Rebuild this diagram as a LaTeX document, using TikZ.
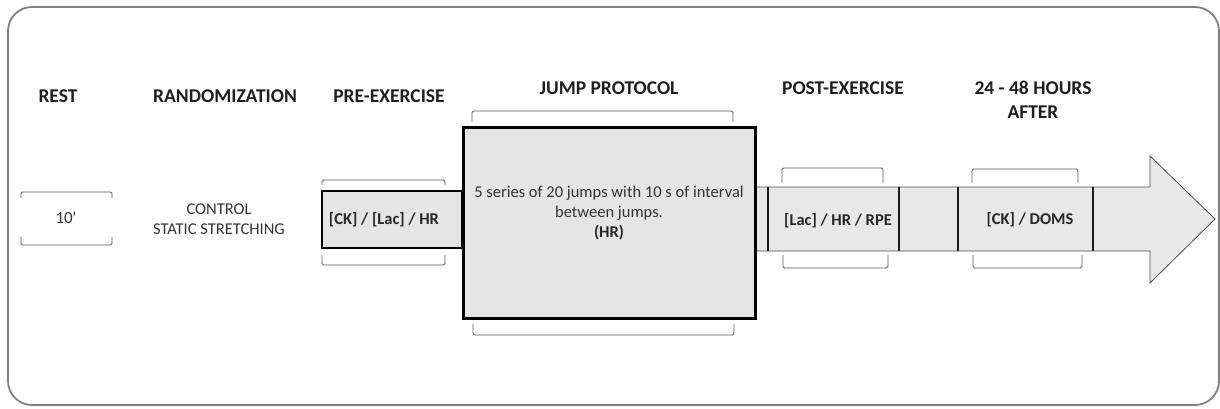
\documentclass[tikz,border=0pt]{standalone}
\usepackage{fontspec}
\setmainfont{Carlito}
\newfontfamily\rawfont{Carlito}[Ligatures=TeXOff]
\begin{document}
\begin{tikzpicture}[x=1pt,y=-1pt,
  hdr/.style={font=\bfseries\fontsize{19.5}{24}\selectfont, text=black!88, align=center, inner sep=0pt},
  body/.style={font=\fontsize{16.5}{20}\selectfont, text=black!80, align=center, inner sep=0pt},
  bbody/.style={font=\bfseries\fontsize{16.5}{20}\selectfont, text=black!85, align=center, inner sep=0pt},
  brk/.style={draw=black!65, line width=0.9pt, rounded corners=1.5pt},
  phase/.style={draw=black, line width=2.4pt, fill=black!10, inner sep=0pt},
  divider/.style={draw=black!90, line width=1.2pt}]
\useasboundingbox (0,0) rectangle (1220,408);
% outer frame
\draw[draw=black!50, line width=1.8pt, rounded corners=24pt] (8,7) rectangle (1219,405);
% headers
\node[hdr] (hrest) at (58,96) {REST};
\node[hdr] (hrand) at (225,96) {RANDOMIZATION};
\node[hdr] (hpre) at (389,96) {PRE-EXERCISE};
\node[hdr] (hjump) at (609,88) {JUMP PROTOCOL};
\node[hdr] (hpost) at (843,88) {POST-EXERCISE};
\node[hdr] (h24) at (1033,100) {24 - 48 HOURS\\AFTER};
% rest
\draw[brk] (21,198) -- (21,192) -- (112,192) -- (112,198);
\draw[brk] (21,237) -- (21,245) -- (112,245) -- (112,237);
\node[body, font=\rawfont\fontsize{17}{20}\selectfont] (rest) at (66,218) {10'};
% randomization
\node[body] (rand) at (219,219) {CONTROL\\STATIC STRETCHING};
% arrow
\path[fill=black!9, draw=black!70, line width=0.8pt] (756,187) -- (1150,187) -- (1150,156) -- (1215,219) -- (1150,283) -- (1150,251) -- (756,251) -- cycle;
\foreach \xx in {768,899,958,1093} \draw[divider] (\xx,187) -- (\xx,251);
% pre-exercise
\node[phase, minimum width=140pt, minimum height=57pt] (pre) at (392,219.5) {};
\node[bbody] (pretxt) at (384,220) {[CK] / [Lac] / HR};
\draw[brk] (322,185) -- (322,180) -- (445,180) -- (445,185);
\draw[brk] (322,255) -- (322,265) -- (445,265) -- (445,255);
% jump protocol
\node[phase, minimum width=292pt, minimum height=191pt] (jump) at (609.5,223) {};
\node[body] (jtxt1) at (609,193) {5 series of 20 jumps with 10 s of interval};
\node[body] (jtxt2) at (609,213) {between jumps.};
\node[bbody] (jtxt3) at (609,233) {(HR)};
\draw[brk] (472,122) -- (472,111) -- (733,111) -- (733,122);
\draw[brk] (473,324) -- (473,335) -- (734,335) -- (734,324);
% post-exercise
\node[bbody] (post) at (838,221) {[Lac] / HR / RPE};
\draw[brk] (782,183) -- (782,168) -- (883,168) -- (883,183);
\draw[brk] (783,255) -- (783,268) -- (888,268) -- (888,255);
% 24-48 h
\node[bbody] (late) at (1030,220) {[CK] / DOMS};
\draw[brk] (972,183) -- (972,169) -- (1078,169) -- (1078,183);
\draw[brk] (973,255) -- (973,268) -- (1082,268) -- (1082,255);
\end{tikzpicture}
\end{document}
